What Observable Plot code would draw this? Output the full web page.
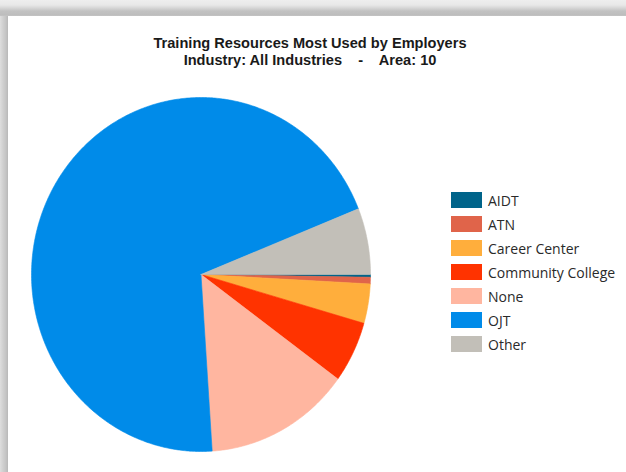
<!DOCTYPE html>
<html>
<head>
<meta charset="utf-8">
<script src="https://cdn.jsdelivr.net/npm/d3@7"></script>
<script src="https://cdn.jsdelivr.net/npm/@observablehq/plot@0.6"></script>
<style>
  html, body { margin: 0; padding: 0; background: #fff; }
  #frame { position: relative; width: 626px; height: 472px; overflow: hidden; background: #fff; }
  #topband { position: absolute; left: 0; top: 0; width: 626px; height: 16px;
    background: linear-gradient(to bottom, #eeeeee 0px, #e8e8e8 5px, #d6d6d6 8px, #c2c2c2 11px, #bdbdbd 15px, #c6c6c6 16px); }
  #leftband { position: absolute; left: 0; top: 16px; width: 8px; height: 456px;
    background: linear-gradient(to right, #dedede 0px, #d0d0d0 3px, #c4c4c4 6px, #b8b8b8 8px); }
  #title { position: absolute; left: 0; width: 620px; top: 35px; text-align: center;
    font-family: "Liberation Sans", Arial, sans-serif; font-weight: bold; font-size: 14.6px; line-height: 17px; color: #1a1a1a; }
  #chart { position: absolute; left: 0; top: 0; }
  #legend { position: absolute; left: 451px; top: 188px; font-family: "Open Sans", "Noto Sans", sans-serif; font-size: 14px; color: #2a2a2a; }
  .row { display: flex; align-items: center; height: 24px; }
  .sw { width: 31px; height: 16px; margin-right: 6px; flex: none; }
</style>
</head>
<body>
<div id="frame">
  <div id="topband"></div>
  <div id="leftband"></div>
  <div id="chart"></div>
  <div id="title">Training Resources Most Used by Employers<br>Industry: All Industries &nbsp;&nbsp; - &nbsp;&nbsp; Area: 10</div>
  <div id="legend"></div>
</div>
<script>
const categories = ["AIDT", "ATN", "Career Center", "Community College", "None", "OJT", "Other"];
const values = [0.25, 0.6, 3.6, 5.6, 13.9, 70.0, 6.05];
const colors = ["#00648a", "#e0644a", "#ffae3c", "#ff3300", "#ffb6a0", "#008be9", "#c2bfb8"];

// Build wedge outlines (angles clockwise from 3 o'clock) from the values
const total = d3.sum(values);
const pts = [];
let acc = 0;
categories.forEach((c, i) => {
  const a0 = acc / total * 2 * Math.PI;
  acc += values[i];
  const a1 = acc / total * 2 * Math.PI;
  const n = Math.max(2, Math.ceil((a1 - a0) / (Math.PI / 360)));
  pts.push({cat: c, x: 0, y: 0});
  for (let k = 0; k <= n; k++) {
    const a = a0 + (a1 - a0) * k / n;
    pts.push({cat: c, x: Math.cos(a), y: Math.sin(a)});
  }
  pts.push({cat: c, x: 0, y: 0});
});

const plot = Plot.plot({
  width: 626,
  height: 472,
  margin: 0,
  x: {domain: [-1, 1], range: [31, 370], axis: null},
  y: {domain: [-1, 1], range: [97, 451], axis: null},
  color: {domain: categories, range: colors},
  style: {background: "transparent"},
  marks: [
    Plot.line(pts, {x: "x", y: "y", z: "cat", fill: "cat", stroke: "cat", strokeWidth: 0.6, curve: "linear-closed"})
  ]
});
document.getElementById("chart").appendChild(plot);

const legend = document.getElementById("legend");
categories.forEach((c, i) => {
  const row = document.createElement("div");
  row.className = "row";
  row.innerHTML = `<div class="sw" style="background:${colors[i]}"></div><span>${c}</span>`;
  legend.appendChild(row);
});
</script>
</body>
</html>
